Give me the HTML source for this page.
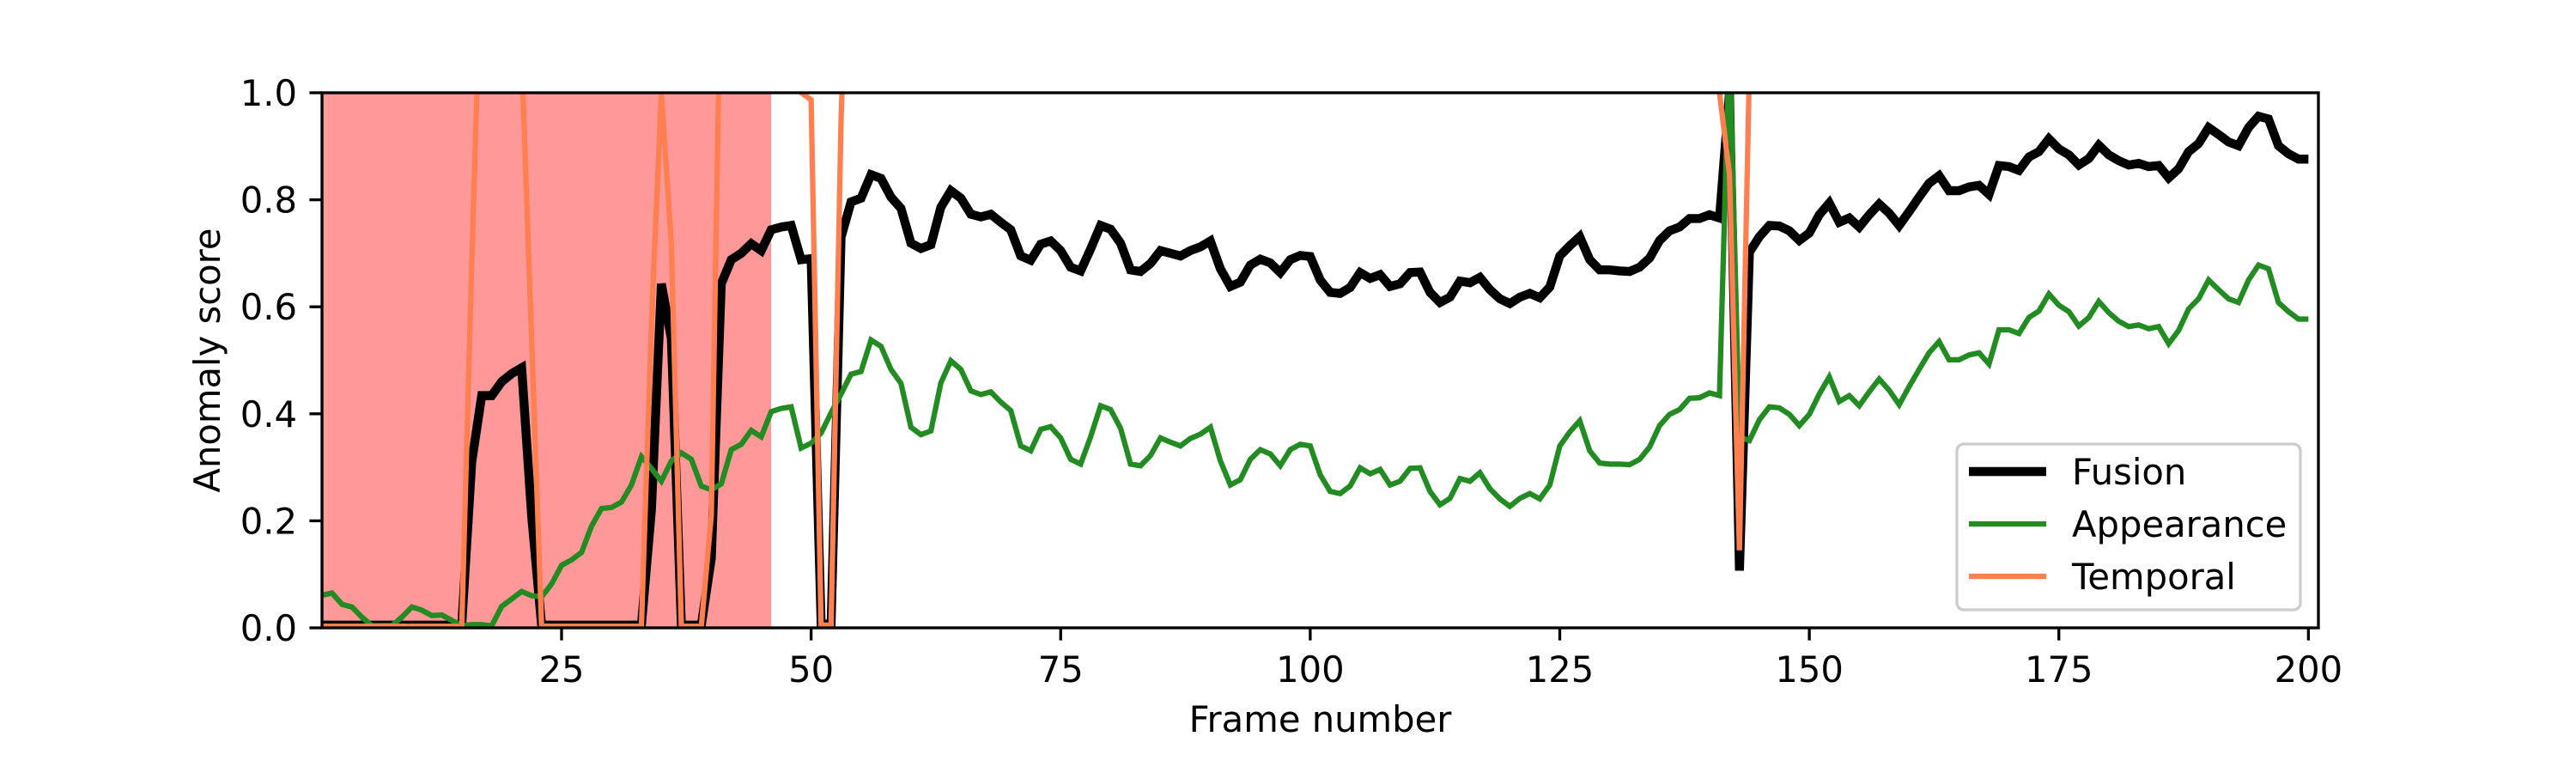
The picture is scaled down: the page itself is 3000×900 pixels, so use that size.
<!DOCTYPE html>
<html><head><meta charset="utf-8"><style>
html,body{margin:0;padding:0;background:#fff;}
svg{display:block;}
text{font-family:"DejaVu Sans","Liberation Sans",sans-serif;font-size:41.7px;fill:#000;}
</style></head><body>
<svg id="chart" width="3000" height="900" viewBox="0 0 3000 900" xmlns="http://www.w3.org/2000/svg">
<defs><clipPath id="plotclip"><rect x="375" y="108" width="2325" height="623"/></clipPath></defs>
<g id="shade"></g>
<g id="series" clip-path="url(#plotclip)"></g>
<g id="axes"></g>
<g id="legend"></g>
</svg>
<script>
const shadeRange = [1, 46];
const xTicks = [25, 50, 75, 100, 125, 150, 175, 200];
const yTicks = [0.0, 0.2, 0.4, 0.6, 0.8, 1.0];
const yTickLabels = ["0.0","0.2","0.4","0.6","0.8","1.0"];
const seriesNames = ["Fusion","Appearance","Temporal"];
const fusion = [
.005,.005,.005,.005,.005,.005,.005,.005,.005,.005,
.005,.005,.005,.005,.005,.31,.434,.434,.46,.475,
.486,.21,.005,.005,.005,.005,.005,.005,.005,.005,
.005,.005,.005,.22,.643,.54,.005,.005,.005,.13,
.643,.688,.70,.718,.705,.744,.749,.752,.688,.69,
.009,.005,.73,.796,.803,.847,.84,.805,.784,.719,
.709,.716,.786,.817,.803,.773,.768,.773,.758,.744,
.695,.687,.717,.723,.705,.674,.667,.708,.752,.745,
.719,.669,.666,.681,.705,.70,.695,.705,.712,.723,
.671,.638,.646,.678,.689,.682,.664,.688,.696,.694,
.65,.627,.625,.636,.664,.653,.66,.638,.643,.664,
.665,.627,.608,.618,.648,.645,.655,.632,.615,.606,
.618,.625,.617,.637,.695,.714,.731,.688,.669,.669,
.667,.666,.674,.691,.724,.742,.749,.765,.765,.772,
.766,1.0,.107,.702,.731,.752,.751,.742,.724,.738,
.772,.794,.758,.766,.749,.772,.792,.775,.752,.778,
.805,.831,.845,.817,.817,.824,.827,.81,.864,.862,
.855,.88,.89,.914,.895,.884,.865,.877,.902,.884,
.873,.865,.868,.862,.864,.841,.858,.89,.905,.935,
.922,.908,.901,.935,.956,.951,.901,.886,.876,.876];
const appearance = [
.061,.065,.044,.039,.02,.004,.004,.004,.02,.039,
.033,.023,.024,.014,.004,.006,.006,.004,.04,.054,
.068,.06,.058,.082,.117,.127,.141,.19,.223,.225,
.235,.267,.32,.298,.274,.312,.327,.315,.265,.258,
.269,.333,.343,.369,.357,.404,.41,.413,.336,.345,
.364,.402,.437,.474,.479,.538,.526,.483,.457,.375,
.361,.368,.458,.499,.483,.443,.436,.441,.422,.406,
.34,.331,.371,.376,.355,.315,.306,.357,.415,.408,
.373,.306,.303,.322,.355,.347,.34,.354,.362,.375,
.312,.267,.277,.315,.333,.325,.303,.333,.343,.34,
.286,.255,.251,.265,.299,.288,.296,.267,.274,.298,
.299,.255,.23,.242,.279,.274,.29,.26,.241,.227,
.242,.251,.241,.267,.34,.366,.387,.331,.308,.306,
.306,.305,.315,.338,.378,.399,.408,.429,.43,.439,
.434,1.1,.357,.35,.389,.413,.411,.399,.378,.399,
.437,.469,.423,.434,.415,.441,.465,.444,.417,.451,
.483,.514,.535,.501,.501,.51,.514,.493,.557,.557,
.55,.58,.592,.624,.603,.591,.564,.58,.61,.589,
.573,.563,.566,.559,.563,.531,.556,.596,.615,.65,
.632,.615,.608,.65,.678,.671,.608,.591,.577,.577];
const temporal = [
.003,.003,.003,.003,.003,.003,.003,.003,.003,.003,
.003,.003,.003,.003,.003,.68,1.3,1.5,1.5,1.5,
1.07,.54,.003,.003,.003,.003,.003,.003,.003,.003,
.003,.003,.003,.57,1.0,.716,.003,.003,.003,.21,
1.3,1.5,1.5,1.5,1.5,1.5,1.5,1.5,1.0,.987,
.005,.005,.95,1.5,1.5,1.5,1.5,1.5,1.5,1.5,
1.5,1.5,1.5,1.5,1.5,1.5,1.5,1.5,1.5,1.5,
1.5,1.5,1.5,1.5,1.5,1.5,1.5,1.5,1.5,1.5,
1.5,1.5,1.5,1.5,1.5,1.5,1.5,1.5,1.5,1.5,
1.5,1.5,1.5,1.5,1.5,1.5,1.5,1.5,1.5,1.5,
1.5,1.5,1.5,1.5,1.5,1.5,1.5,1.5,1.5,1.5,
1.5,1.5,1.5,1.5,1.5,1.5,1.5,1.5,1.5,1.5,
1.5,1.5,1.5,1.5,1.5,1.5,1.5,1.5,1.5,1.5,
1.5,1.5,1.5,1.5,1.5,1.5,1.5,1.5,1.5,1.5,
1.0,.848,.145,1.05,1.5,1.5,1.5,1.5,1.5,1.5,
1.5,1.5,1.5,1.5,1.5,1.5,1.5,1.5,1.5,1.5,
1.5,1.5,1.5,1.5,1.5,1.5,1.5,1.5,1.5,1.5,
1.5,1.5,1.5,1.5,1.5,1.5,1.5,1.5,1.5,1.5,
1.5,1.5,1.5,1.5,1.5,1.5,1.5,1.5,1.5,1.5,
1.5,1.5,1.5,1.5,1.5,1.5,1.5,1.5,1.5,1.5];

const NS = "http://www.w3.org/2000/svg";
const X0 = 375, X1 = 2700, Y0 = 731, Y1 = 108;
const xMin = 1, xMax = 201;
function xs(f){ return X0 + (f - xMin) * (X1 - X0) / (xMax - xMin); }
function ys(v){ return Y0 - v * (Y0 - Y1); }
function mk(tag, attrs, parent){
  const e = document.createElementNS(NS, tag);
  for (const k in attrs) e.setAttribute(k, attrs[k]);
  parent.appendChild(e);
  return e;
}
const shadeG = document.getElementById('shade');
const seriesG = document.getElementById('series');
const axesG = document.getElementById('axes');
const legG = document.getElementById('legend');

const sh = mk('rect', {x: xs(shadeRange[0]), y: Y1, width: xs(shadeRange[1]) - xs(shadeRange[0]), height: Y0 - Y1, fill: '#ff9999'}, shadeG);



function drawLine(vals, color, w, name){
  const pts = vals.map((v, i) => xs(i + 1).toFixed(2) + ',' + ys(v).toFixed(2)).join(' ');
  const p = mk('polyline', {points: pts, fill: 'none', stroke: color, 'stroke-width': w, 'stroke-linejoin': 'miter', 'stroke-miterlimit': 4}, seriesG);
  
  
}
drawLine(fusion, '#000000', 10.4, 'fusion-line');
drawLine(appearance, '#228b22', 6.25, 'appearance-line');
drawLine(temporal, '#ff7f50', 6.25, 'temporal-line');

// frame
const fr = mk('rect', {x: X0, y: Y1, width: X1 - X0, height: Y0 - Y1, fill: 'none', stroke: '#000', 'stroke-width': 3.33}, axesG);



xTicks.forEach(t => {
  const x = xs(t);
  const tk = mk('line', {x1: x, x2: x, y1: Y0, y2: Y0 + 14.6, stroke: '#000', 'stroke-width': 3.33}, axesG);
  
  
  const lb = mk('text', {x: x, y: 794, 'text-anchor': 'middle'}, axesG);
  lb.textContent = String(t);
  
  
});
yTicks.forEach((t, i) => {
  const y = ys(t);
  const tk = mk('line', {x1: X0 - 14.6, x2: X0, y1: y, y2: y, stroke: '#000', 'stroke-width': 3.33}, axesG);
  
  
  const lb = mk('text', {x: 346, y: y + 15, 'text-anchor': 'end'}, axesG);
  lb.textContent = yTickLabels[i];
  
  
});
const xl = mk('text', {x: (X0 + X1) / 2, y: 852, 'text-anchor': 'middle'}, axesG);
xl.textContent = 'Frame number';


const yl = mk('text', {x: 0, y: 0, 'text-anchor': 'middle', transform: 'translate(256,' + ((Y0 + Y1) / 2) + ') rotate(-90)'}, axesG);
yl.textContent = 'Anomaly score';



// legend
const lbox = mk('rect', {x: 2279, y: 517, width: 400, height: 193, rx: 8, fill: '#fff', 'fill-opacity': 0.8, stroke: '#cccccc', 'stroke-width': 3.33}, legG);


const legColors = ['#000000', '#228b22', '#ff7f50'];
const legW = [10.4, 6.25, 6.25];
const legY = [549, 610, 671];
seriesNames.forEach((n, i) => {
  const ln = mk('line', {x1: 2293, x2: 2383, y1: legY[i], y2: legY[i], stroke: legColors[i], 'stroke-width': legW[i]}, legG);
  
  
  const tx = mk('text', {x: 2413, y: legY[i] + 15}, legG);
  tx.textContent = n;
  
  
});
</script>
</body></html>
